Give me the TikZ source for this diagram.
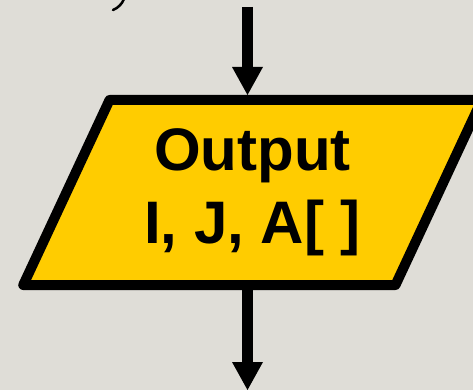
\documentclass[tikz,border=0pt]{standalone}
\usepackage{fontspec}
\setmainfont{Liberation Sans}
\usetikzlibrary{shapes.geometric,arrows.meta}

\definecolor{bgGrey}{RGB}{223,221,215}
\definecolor{ioYellow}{RGB}{255,204,0}

\begin{document}
\begin{tikzpicture}[x=1pt,y=-1pt,
  flow/.style={line width=11pt,-{Triangle[width=31pt,length=28pt,line width=0pt]}},
  iobox/.style={trapezium,trapezium left angle=63.3,trapezium right angle=116.7,
    trapezium stretches=true,minimum width=461pt,minimum height=185pt,
    draw,line width=10pt,line join=round,fill=ioYellow,align=center,
    font=\bfseries\fontsize{60}{78}\selectfont}]

% page
\fill[bgGrey] (0,0) rectangle (473,390);
\useasboundingbox (0,0) rectangle (473,390);

% tail of the previous symbol
\draw[line width=2.5pt,line cap=round] (124,-1) .. controls (122,4) and (118,8) .. (113,10);

% output symbol
\node[iobox] (out) at (252.5,192.5) {Output\\[-5pt]I, J, A[ ]};

% flow in and out
\coordinate (in) at (247.5,7);
\coordinate (next) at (247.5,390);
\draw[flow] (in) -- (in |- out.north);
\draw[flow] (out.south -| next) -- (next);

\end{tikzpicture}
\end{document}
